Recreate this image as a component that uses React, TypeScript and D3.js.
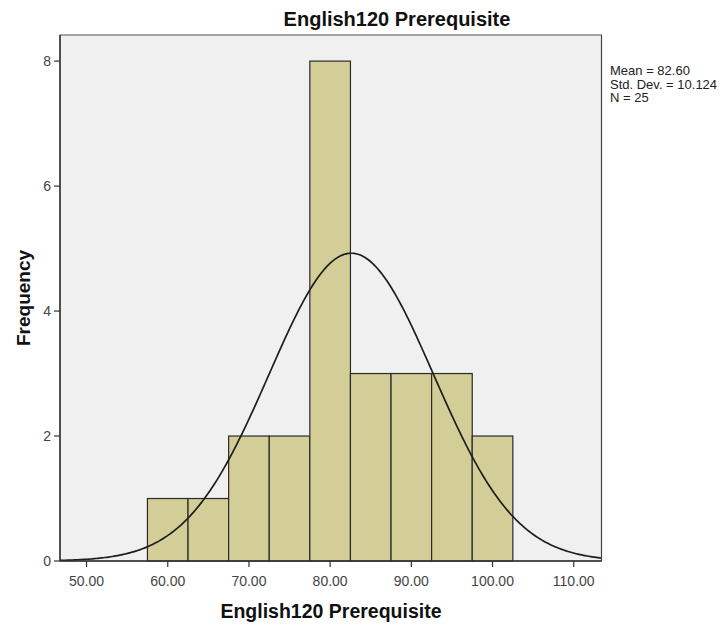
import React from "react";
import * as d3 from "d3";

const binStarts = [57.5, 62.5, 67.5, 72.5, 77.5, 82.5, 87.5, 92.5, 97.5];
const binWidth = 5;
const counts = [1, 1, 2, 2, 8, 3, 3, 3, 2];
const xTicks = [50, 60, 70, 80, 90, 100, 110];
const yTicks = [0, 2, 4, 6, 8];
const mean = 82.6;
const sd = 10.124;
const n = 25;
const legendLines = ["Mean = 82.60", "Std. Dev. = 10.124", "N = 25"];

export default function App() {
  const W = 727, H = 625;
  const left = 60, right = 601.5, top = 35, bottom = 561;
  const x = d3.scaleLinear().domain([46.73, 113.42]).range([left, right]);
  const y = d3.scaleLinear().domain([0, 8.418]).range([bottom, top]);
  const pdf = (v: number) =>
    (n * binWidth) / (sd * Math.sqrt(2 * Math.PI)) * Math.exp(-0.5 * ((v - mean) / sd) ** 2);
  const pts = d3.range(0, 301).map((i) => {
    const v = 46.73 + (113.42 - 46.73) * (i / 300);
    return [x(v), y(pdf(v))] as [number, number];
  });
  const line = d3.line()(pts) || "";
  const font = "'Liberation Sans', Arial, sans-serif";
  return (
    <svg width={W} height={H} style={{ position: "absolute", left: 0, top: 0 }} fontFamily={font}>
      <rect x={0} y={0} width={W} height={H} fill="#ffffff" />
      <rect x={left} y={top} width={right - left} height={bottom - top} fill="#f0f0f0" stroke="#555" strokeWidth={1} />
      {binStarts.map((b, i) => (
        <rect
          key={i}
          x={x(b)}
          y={y(counts[i])}
          width={x(b + binWidth) - x(b)}
          height={y(0) - y(counts[i])}
          fill="#d3ce98"
          stroke="#2a2a2a"
          strokeWidth={1.2}
        />
      ))}
      <clipPath id="clip">
        <rect x={left} y={top} width={right - left} height={bottom - top} />
      </clipPath>
      <path d={line} fill="none" stroke="#1e1e1e" strokeWidth={1.7} clipPath="url(#clip)" />
      <line x1={left} x2={left} y1={top} y2={bottom} stroke="#333" strokeWidth={1.5} />
      <line x1={left} x2={right} y1={bottom} y2={bottom} stroke="#333" strokeWidth={1.5} />
      <line x1={right} x2={right} y1={top} y2={bottom} stroke="#444" strokeWidth={1.2} />
      {yTicks.map((t) => (
        <g key={t}>
          <line x1={left - 6} x2={left} y1={y(t)} y2={y(t)} stroke="#333" strokeWidth={1.2} />
          <text x={left - 9} y={y(t) + 5} textAnchor="end" fontSize={14} fill="#444">
            {t}
          </text>
        </g>
      ))}
      {xTicks.map((t) => (
        <g key={t}>
          <line x1={x(t)} x2={x(t)} y1={bottom} y2={bottom + 6} stroke="#333" strokeWidth={1.2} />
          <text x={x(t)} y={bottom + 25} textAnchor="middle" fontSize={14} fill="#444">
            {t.toFixed(2)}
          </text>
        </g>
      ))}
      <text x={397} y={26} textAnchor="middle" fontSize={20} fontWeight="bold" fill="#111">
        English120 Prerequisite
      </text>
      <text x={331} y={618} textAnchor="middle" fontSize={19.5} fontWeight="bold" fill="#111">
        English120 Prerequisite
      </text>
      <text
        transform={`translate(30, ${(top + bottom) / 2}) rotate(-90)`}
        textAnchor="middle"
        fontSize={19}
        fontWeight="bold"
        fill="#111"
      >
        Frequency
      </text>
      {legendLines.map((s, i) => (
        <text key={i} x={610} y={75 + i * 13.5} fontSize={13} fill="#222">
          {s}
        </text>
      ))}
    </svg>
  );
}
